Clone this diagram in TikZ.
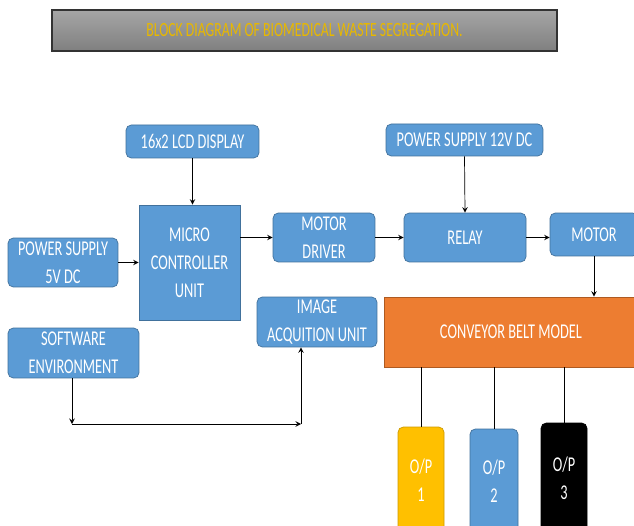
\documentclass[tikz,border=0pt]{standalone}
\usepackage{fontspec}
\setmainfont{Carlito}[FakeStretch=0.68]
\usepackage{tikz}
\usetikzlibrary{positioning}
\definecolor{boxblue}{HTML}{5B9BD5}
\definecolor{boxline}{HTML}{41719C}
\definecolor{beltorange}{HTML}{ED7D31}
\definecolor{beltline}{HTML}{AE5A21}
\definecolor{outyellow}{HTML}{FFC000}
\definecolor{titlegold}{HTML}{E8B800}
\tikzset{basic/.style={draw=boxline,fill=boxblue,text=white,align=center,
                       inner sep=0pt,font=\fontsize{12}{16}\selectfont}}
\tikzset{block/.style={basic,rounded corners=3pt}}
\tikzset{outbox/.style={block,minimum width=0.92cm,minimum height=2.12cm}}

\begin{document}
\begin{tikzpicture}[x=0.02cm,y=-0.02cm,>=stealth]

    \clip (0,0) rectangle (634,526);
    \fill[white] (0,0) rectangle (634,526);

    \node[draw=black!80,line width=1.2pt,top color=black!35,bottom color=black!50,
          text=titlegold,inner sep=0pt,minimum width=10.1cm,minimum height=0.82cm,
          font=\fontsize{11.5}{14}\selectfont] (title) at (304.5,30.5)
          {BLOCK DIAGRAM OF BIOMEDICAL WASTE SEGREGATION.};

    \node[block,minimum width=2.66cm,minimum height=0.66cm] (lcd) at (192.5,141.5){16x2 LCD DISPLAY};
    \node[basic,minimum width=2.02cm,minimum height=2.3cm] (mcu) at (189.5,262.5){MICRO\\CONTROLLER\\UNIT};
    \node[block,minimum width=2.2cm,minimum height=0.98cm] (ps5) at (63,262.5){POWER SUPPLY\\5V DC};
    \node[block,minimum width=2.04cm,minimum height=0.98cm] (drv) at (324,237.5){MOTOR\\DRIVER};

    \node[block,minimum width=3.14cm,minimum height=0.64cm] (ps12) at (464.5,140){POWER SUPPLY 12V DC};
    \node[block,minimum width=2.44cm,minimum height=0.98cm] (relay) at (465,237.5){RELAY};
    \node[block,minimum width=1.76cm,minimum height=0.86cm] (motor) at (594,234.5){MOTOR};

    \node[basic,draw=beltline,fill=beltorange,minimum width=5.08cm,minimum height=1.4cm] (conv) at (511,332){CONVEYOR BELT MODEL};
    \node[block,minimum width=2.4cm,minimum height=1cm] (img) at (317,322){IMAGE\\ACQUITION UNIT};
    \node[block,minimum width=2.62cm,minimum height=1cm] (sw) at (73.5,353){SOFTWARE\\ENVIRONMENT};

    \node[outbox,draw=outyellow!80!black,fill=outyellow] (op1) at (421,480){O/P\\1};
    \node[outbox,minimum width=0.96cm,minimum height=2.08cm] (op2) at (494,481){O/P\\2};
    \node[outbox,draw=black,fill=black,minimum height=2.2cm] (op3) at (564,478){O/P\\3};

    \coordinate (c1) at (72,424);
    \coordinate (c2) at (301,424);

    \draw[->] (lcd.south) -- (lcd.south |- mcu.north);
    \draw[->] (ps5.east) -- (ps5.east -| mcu.west);
    \draw[->] (drv.west -| mcu.east) -- (drv.west);
    \draw[->] (drv.east) -- (relay.west);
    \draw[->] (ps12.south) -- (relay.north);
    \draw[->] (relay.east) -- (relay.east -| motor.west);
    \draw[->] (motor.south) -- (motor.south |- conv.north);

    \draw[->] (sw.south -| c1) -- (c1);
    \draw[->] (c1) -- (c2);
    \draw[->] (c2) -- (c2 |- img.south);

    \draw (op1.north |- conv.south) -- (op1.north);
    \draw (op2.north |- conv.south) -- (op2.north);
    \draw (op3.north |- conv.south) -- (op3.north);

\end{tikzpicture}
\end{document}
